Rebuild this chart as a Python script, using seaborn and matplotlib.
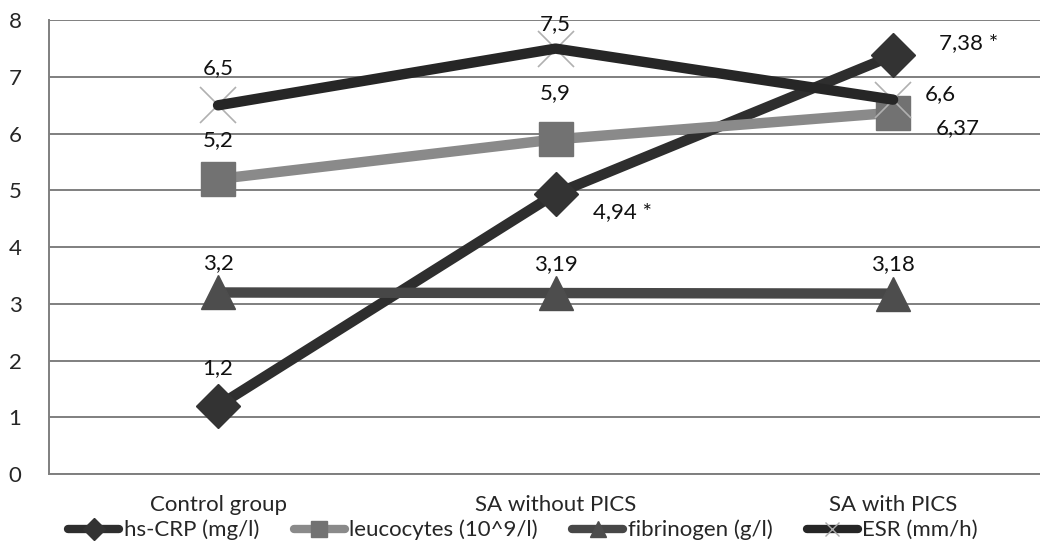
import matplotlib
matplotlib.use("Agg")
import matplotlib.pyplot as plt
import seaborn as sns
import pandas as pd
from matplotlib.lines import Line2D

categories = ["Control group", "SA without PICS", "SA with PICS"]
series_names = ["hs-CRP (mg/l)", "leucocytes (10^9/l)", "fibrinogen (g/l)", "ESR (mm/h)"]
hs_crp = [1.2, 4.94, 7.38]
leucocytes = [5.2, 5.9, 6.37]
fibrinogen = [3.2, 3.19, 3.18]
esr = [6.5, 7.5, 6.6]
label_texts = {
    "hs-CRP (mg/l)": ["1,2", "4,94 *", "7,38 *"],
    "leucocytes (10^9/l)": ["5,2", "5,9", "6,37"],
    "fibrinogen (g/l)": ["3,2", "3,19", "3,18"],
    "ESR (mm/h)": ["6,5", "7,5", "6,6"],
}
y_ticks = [0, 1, 2, 3, 4, 5, 6, 7, 8]

sns.set_theme(style="white")
plt.rcParams["font.family"] = ["Lato", "DejaVu Sans"]
FS = 16

rows = []
for name, vals in zip(series_names, [hs_crp, leucocytes, fibrinogen, esr]):
    for i, v in enumerate(vals):
        rows.append({"series": name, "x": i, "value": v})
df = pd.DataFrame(rows)

line_colors = {"hs-CRP (mg/l)": "#2e2e2e", "leucocytes (10^9/l)": "#8a8a8a",
               "fibrinogen (g/l)": "#474747", "ESR (mm/h)": "#262626"}
marker_face = {"hs-CRP (mg/l)": "#333333", "leucocytes (10^9/l)": "#727272",
               "fibrinogen (g/l)": "#4d4d4d", "ESR (mm/h)": "#b0b0b0"}
markers = {"hs-CRP (mg/l)": "D", "leucocytes (10^9/l)": "s",
           "fibrinogen (g/l)": "^", "ESR (mm/h)": "x"}
msizes = {"hs-CRP (mg/l)": 22, "leucocytes (10^9/l)": 24,
          "fibrinogen (g/l)": 24, "ESR (mm/h)": 26}

fig = plt.figure(figsize=(10.4, 5.47), dpi=100)
ax = fig.add_axes([0.0474, 0.1335, 0.9736, 0.8295])

for name in series_names:
    sub = df[df["series"] == name]
    if name == "ESR (mm/h)":
        ax.plot(sub["x"], sub["value"], linestyle="none", marker="x",
                markersize=msizes[name], markeredgewidth=1.2,
                color=marker_face[name], zorder=3)
        sns.lineplot(data=sub, x="x", y="value", ax=ax, color=line_colors[name],
                     linewidth=7.5, solid_capstyle="round", zorder=4, legend=False)
    else:
        sns.lineplot(data=sub, x="x", y="value", ax=ax, color=line_colors[name],
                     linewidth=7.5, marker=markers[name], markersize=msizes[name],
                     markerfacecolor=marker_face[name], markeredgecolor=marker_face[name],
                     markeredgewidth=1, zorder=3, legend=False)

offsets = {
    "hs-CRP (mg/l)": [(0, 27, "center"), (27, -13, "left"), (33, 9, "left")],
    "leucocytes (10^9/l)": [(0, 28, "center"), (0, 33, "center"), (31, -11, "left")],
    "fibrinogen (g/l)": [(0, 21, "center"), (0, 21, "center"), (0, 21, "center")],
    "ESR (mm/h)": [(0, 27, "center"), (0, 18, "center"), (23, 4, "left")],
}
for name, vals in zip(series_names, [hs_crp, leucocytes, fibrinogen, esr]):
    for i, v in enumerate(vals):
        dx, dy, ha = offsets[name][i]
        ax.annotate(label_texts[name][i], (i, v), xytext=(dx, dy), textcoords="offset points",
                    ha=ha, va="center", fontsize=FS, color="#111111", zorder=6)

ax.set_xlim(-0.5, 2.5)
ax.set_ylim(0, 8)
ax.set_yticks(y_ticks)
ax.set_yticklabels([str(t) for t in y_ticks], fontsize=FS)
ax.set_xticks(range(len(categories)))
ax.set_xticklabels(categories, fontsize=FS)
ax.tick_params(axis="y", length=0, pad=20)
ax.tick_params(axis="x", length=0, pad=15)
ax.set_xlabel("")
ax.set_ylabel("")
ax.grid(axis="y", color="#7f7f7f", linewidth=1.4)
ax.set_axisbelow(True)
for side in ["top", "right"]:
    ax.spines[side].set_visible(False)
for side in ["left", "bottom"]:
    ax.spines[side].set_color("#7f7f7f")
    ax.spines[side].set_linewidth(1.4)

handles = []
for name in series_names:
    if name == "ESR (mm/h)":
        h = Line2D([0], [0], color=line_colors[name], linewidth=6, marker="x",
                   markersize=10, markeredgecolor="#aaaaaa", markeredgewidth=1,
                   solid_capstyle="round")
    else:
        h = Line2D([0], [0], color=line_colors[name], linewidth=6, marker=markers[name],
                   markersize=11, markerfacecolor=marker_face[name],
                   markeredgecolor=marker_face[name], solid_capstyle="round")
    handles.append(h)
fig.legend(handles, series_names, loc="center", bbox_to_anchor=(0.503, 0.031), ncol=4,
           frameon=False, fontsize=FS, handlelength=2.3, handletextpad=0.2,
           columnspacing=1.55)

fig.savefig("out.png", dpi=100)
